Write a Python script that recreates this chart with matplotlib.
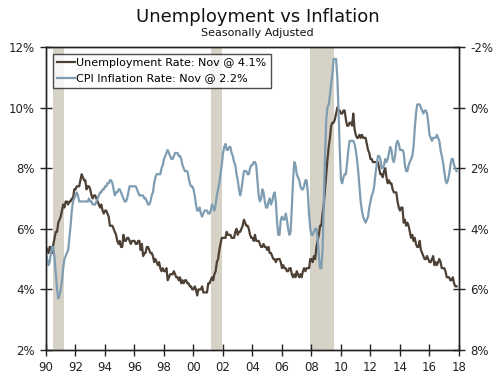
import numpy as np
import pandas as pd
import matplotlib
matplotlib.use('Agg')
import matplotlib.pyplot as plt
from matplotlib.ticker import FuncFormatter

# Monthly unemployment rate (%), Jan 1990 - Nov 2017
unemployment = [
    5.4, 5.3, 5.2, 5.4, 5.4, 5.2, 5.5, 5.7, 5.9, 5.9, 6.2, 6.3,  # 1990
    6.4, 6.6, 6.8, 6.7, 6.9, 6.9, 6.8, 6.9, 6.9, 7.0, 7.0, 7.3,  # 1991
    7.3, 7.4, 7.4, 7.4, 7.6, 7.8, 7.7, 7.6, 7.6, 7.3, 7.4, 7.4,  # 1992
    7.3, 7.1, 7.0, 7.1, 7.1, 7.0, 6.9, 6.8, 6.7, 6.8, 6.6, 6.5,  # 1993
    6.6, 6.6, 6.5, 6.4, 6.1, 6.1, 6.1, 6.0, 5.9, 5.8, 5.6, 5.5,  # 1994
    5.6, 5.4, 5.4, 5.8, 5.6, 5.6, 5.7, 5.7, 5.6, 5.5, 5.6, 5.6,  # 1995
    5.6, 5.5, 5.5, 5.6, 5.6, 5.3, 5.5, 5.1, 5.2, 5.2, 5.4, 5.4,  # 1996
    5.3, 5.2, 5.2, 5.1, 4.9, 5.0, 4.9, 4.8, 4.9, 4.7, 4.6, 4.7,  # 1997
    4.6, 4.6, 4.7, 4.3, 4.4, 4.5, 4.5, 4.5, 4.6, 4.5, 4.4, 4.4,  # 1998
    4.3, 4.4, 4.2, 4.3, 4.2, 4.3, 4.3, 4.2, 4.2, 4.1, 4.1, 4.0,  # 1999
    4.0, 4.1, 4.0, 3.8, 4.0, 4.0, 4.0, 4.1, 3.9, 3.9, 3.9, 3.9,  # 2000
    4.2, 4.2, 4.3, 4.4, 4.3, 4.5, 4.6, 4.9, 5.0, 5.3, 5.5, 5.7,  # 2001
    5.7, 5.7, 5.7, 5.9, 5.8, 5.8, 5.8, 5.7, 5.7, 5.7, 5.9, 6.0,  # 2002
    5.8, 5.9, 5.9, 6.0, 6.1, 6.3, 6.2, 6.1, 6.1, 6.0, 5.8, 5.7,  # 2003
    5.7, 5.6, 5.8, 5.6, 5.6, 5.6, 5.5, 5.4, 5.4, 5.5, 5.4, 5.4,  # 2004
    5.3, 5.4, 5.2, 5.2, 5.1, 5.0, 5.0, 4.9, 5.0, 5.0, 5.0, 4.9,  # 2005
    4.7, 4.8, 4.7, 4.7, 4.6, 4.6, 4.7, 4.7, 4.5, 4.4, 4.5, 4.4,  # 2006
    4.6, 4.5, 4.4, 4.5, 4.4, 4.6, 4.7, 4.6, 4.7, 4.7, 4.7, 5.0,  # 2007
    5.0, 4.9, 5.1, 5.0, 5.4, 5.6, 5.8, 6.1, 6.1, 6.5, 6.8, 7.3,  # 2008
    7.8, 8.3, 8.7, 9.0, 9.4, 9.5, 9.5, 9.6, 9.8, 10.0, 9.9, 9.9,  # 2009
    9.8, 9.8, 9.9, 9.9, 9.6, 9.4, 9.4, 9.5, 9.5, 9.4, 9.8, 9.3,  # 2010
    9.1, 9.0, 9.0, 9.1, 9.0, 9.1, 9.0, 9.0, 9.0, 8.8, 8.6, 8.5,  # 2011
    8.3, 8.3, 8.2, 8.2, 8.2, 8.2, 8.2, 8.0, 7.8, 7.8, 7.7, 7.9,  # 2012
    8.0, 7.7, 7.5, 7.6, 7.5, 7.5, 7.3, 7.2, 7.2, 7.2, 6.9, 6.7,  # 2013
    6.6, 6.7, 6.7, 6.2, 6.3, 6.1, 6.2, 6.1, 5.9, 5.7, 5.8, 5.6,  # 2014
    5.7, 5.5, 5.4, 5.4, 5.6, 5.3, 5.2, 5.1, 5.0, 5.0, 5.1, 5.0,  # 2015
    4.9, 4.9, 5.0, 5.1, 4.8, 4.9, 4.8, 4.9, 5.0, 4.9, 4.7, 4.7,  # 2016
    4.7, 4.6, 4.4, 4.4, 4.4, 4.3, 4.3, 4.4, 4.2, 4.1, 4.1,       # 2017
]

# CPI inflation (%), Jan 1990 - Nov 2017
cpi_inflation = [
    4.8, 5.0, 5.2, 5.1, 4.8, 4.6, 4.6, 5.0, 5.5, 6.0, 6.3, 6.2,  # 1990
    6.0, 5.7, 5.3, 5.0, 4.9, 4.8, 4.7, 4.3, 3.9, 3.4, 3.1, 3.0,  # 1991
    2.9, 2.8, 2.9, 3.1, 3.1, 3.1, 3.1, 3.1, 3.1, 3.1, 3.1, 3.0,  # 1992
    3.1, 3.1, 3.2, 3.2, 3.2, 3.1, 3.0, 2.9, 2.8, 2.8, 2.7, 2.7,  # 1993
    2.6, 2.6, 2.5, 2.5, 2.4, 2.4, 2.5, 2.7, 2.9, 2.8, 2.8, 2.7,  # 1994
    2.7, 2.8, 2.9, 3.0, 3.1, 3.1, 3.0, 2.8, 2.6, 2.6, 2.6, 2.6,  # 1995
    2.6, 2.6, 2.7, 2.8, 2.9, 2.9, 2.9, 2.9, 3.0, 3.0, 3.1, 3.2,  # 1996
    3.2, 3.1, 2.9, 2.8, 2.5, 2.3, 2.2, 2.2, 2.2, 2.2, 2.0, 1.9,  # 1997
    1.7, 1.6, 1.5, 1.4, 1.5, 1.6, 1.7, 1.7, 1.6, 1.5, 1.5, 1.5,  # 1998
    1.6, 1.6, 1.7, 1.9, 2.0, 2.1, 2.1, 2.1, 2.3, 2.5, 2.6, 2.6,  # 1999
    2.7, 2.9, 3.2, 3.4, 3.4, 3.3, 3.5, 3.6, 3.5, 3.4, 3.4, 3.4,  # 2000
    3.5, 3.5, 3.4, 3.2, 3.3, 3.4, 3.2, 2.9, 2.7, 2.5, 2.2, 1.9,  # 2001
    1.5, 1.3, 1.2, 1.4, 1.4, 1.3, 1.3, 1.5, 1.6, 1.8, 1.9, 2.2,  # 2002
    2.4, 2.7, 2.9, 2.7, 2.4, 2.1, 2.1, 2.1, 2.2, 2.2, 2.0, 1.9,  # 2003
    1.9, 1.8, 1.8, 1.9, 2.4, 2.9, 3.1, 3.0, 2.7, 2.8, 3.1, 3.3,  # 2004
    3.3, 3.1, 3.0, 3.2, 3.1, 2.9, 2.8, 3.1, 3.8, 4.2, 4.2, 3.7,  # 2005
    3.6, 3.7, 3.7, 3.5, 3.7, 4.0, 4.2, 4.1, 3.3, 2.4, 1.8, 1.9,  # 2006
    2.2, 2.3, 2.4, 2.6, 2.7, 2.7, 2.6, 2.4, 2.4, 2.8, 3.5, 4.0,  # 2007
    4.2, 4.2, 4.1, 4.0, 4.0, 4.3, 4.9, 5.3, 5.3, 4.7, 3.2, 1.6,  # 2008
    0.4, 0.0, -0.1, -0.4, -0.8, -1.1, -1.6, -1.6, -1.6, -1.0, 0.1, 1.4,  # 2009
    2.4, 2.5, 2.3, 2.2, 2.2, 1.8, 1.4, 1.1, 1.1, 1.1, 1.1, 1.2,  # 2010
    1.4, 1.7, 2.1, 2.6, 3.1, 3.4, 3.6, 3.7, 3.8, 3.7, 3.6, 3.3,  # 2011
    3.1, 2.9, 2.8, 2.6, 2.2, 1.9, 1.6, 1.6, 1.7, 2.0, 2.0, 1.9,  # 2012
    1.7, 1.8, 1.7, 1.5, 1.3, 1.4, 1.7, 1.8, 1.6, 1.2, 1.1, 1.2,  # 2013
    1.4, 1.4, 1.4, 1.5, 1.9, 2.1, 2.1, 1.9, 1.8, 1.7, 1.6, 1.3,  # 2014
    0.7, 0.2, -0.1, -0.1, -0.1, 0.0, 0.1, 0.2, 0.1, 0.1, 0.2, 0.5,  # 2015
    0.9, 1.0, 1.1, 1.0, 1.0, 1.0, 0.9, 1.0, 1.1, 1.4, 1.6, 1.8,  # 2016
    2.1, 2.4, 2.5, 2.4, 2.2, 1.9, 1.7, 1.7, 1.9, 2.0, 2.1,       # 2017
]

# NBER recessions (first month, last month)
recessions = [("1990-07", "1991-03"), ("2001-03", "2001-11"), ("2007-12", "2009-06")]

x_ticks = list(range(1990, 2019, 2))
left_ticks = [2, 4, 6, 8, 10, 12]
right_ticks = [-2, 0, 2, 4, 6, 8]

unemp_label = "Unemployment Rate: Nov @ 4.1%"
cpi_label = "CPI Inflation Rate: Nov @ 2.2%"

unemp_color = "#4d4035"
cpi_color = "#7f9db2"
shade_color = "#d6d2c6"


def to_year(ts):
    return ts.year + (ts.month - 1) / 12


dates = pd.date_range("1990-01-01", periods=len(unemployment), freq="MS")
x = np.array([to_year(d) for d in dates])

fig = plt.figure(figsize=(5, 3.78), dpi=100)
ax = fig.add_axes([0.092, 0.074, 0.826, 0.802])
ax2 = ax.twinx()  # right axis is inverted CPI

# recession bars
for start, end in recessions:
    s = to_year(pd.Timestamp(start))
    e = to_year(pd.Timestamp(end)) + 1 / 12
    ax.axvspan(s, e, color=shade_color, lw=0, zorder=0)

line_u, = ax.plot(x, unemployment, color=unemp_color, lw=1.6, zorder=3)
line_c, = ax2.plot(x, cpi_inflation, color=cpi_color, lw=1.6, zorder=2)

ax.set_xlim(1990, 2018)
ax.set_ylim(2, 12)
ax2.set_ylim(8, -2)

ax.set_xticks(x_ticks)
ax.set_xticklabels([f"{t % 100:02d}" for t in x_ticks])
ax.set_yticks(left_ticks)
ax.yaxis.set_major_formatter(FuncFormatter(lambda v, p: f"{v:.0f}%"))
ax2.set_yticks(right_ticks)
ax2.yaxis.set_major_formatter(FuncFormatter(lambda v, p: f"{v:.0f}%"))

for a in (ax, ax2):
    a.tick_params(direction="inout", length=8, width=1, labelsize=8.5,
                  pad=4, colors="#222222")
    for sp in a.spines.values():
        sp.set_linewidth(1)
        sp.set_color("#222222")

leg = ax2.legend([line_u, line_c], [unemp_label, cpi_label], loc="upper left",
                 fontsize=8, frameon=True, fancybox=False, handlelength=1.6,
                 handletextpad=0.1, borderaxespad=0.6, borderpad=0.4,
                 labelspacing=0.5)
leg.get_frame().set_edgecolor("#222222")
leg.get_frame().set_linewidth(1)

fig.text(0.515, 0.955, "Unemployment vs Inflation", ha="center", va="center",
         fontsize=13, color="#111111")
fig.text(0.515, 0.912, "Seasonally Adjusted", ha="center", va="center",
         fontsize=8, color="#111111")

fig.savefig("out.png", dpi=100)
